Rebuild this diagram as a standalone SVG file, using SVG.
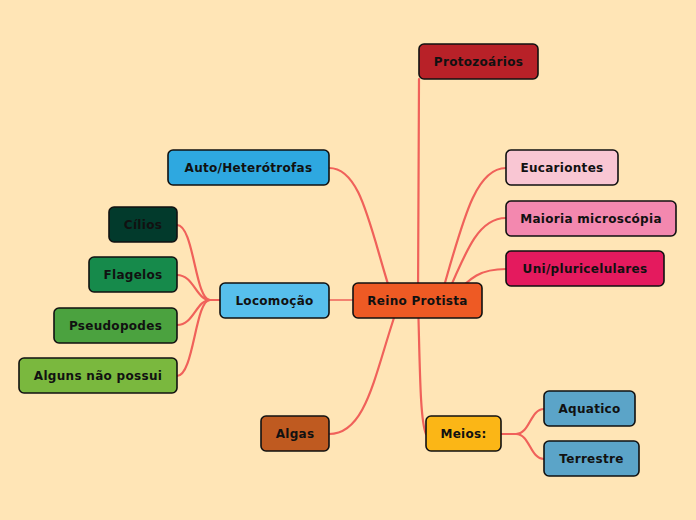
<svg xmlns="http://www.w3.org/2000/svg" width="696" height="520" viewBox="0 0 696 520">
<style>
.bg{fill:#FFE5B6}
.n rect{stroke:#111;stroke-width:1.6}
.n text{font-family:"DejaVu Sans","Liberation Sans",sans-serif;font-weight:bold;font-size:12px;fill:#111;text-anchor:middle;dominant-baseline:central;letter-spacing:0.3px}
#connectors path{fill:none;stroke:#F0615A;stroke-linecap:round;stroke-width:2.2}
#connectors path.thin{stroke-width:1.6}
</style>
<rect class="bg" x="0" y="0" width="696" height="520"/>
<g id="connectors">
<path d="M418 300 L419 79"/>
<path d="M440 300 C462 225 474 168 506 168"/>
<path d="M445 300 C468 245 480 218 506 218"/>
<path d="M450 300 C470 276 482 269 506 269"/>
<path d="M393 300 C370 230 362 168 329 168"/>
<path d="M400 300 C375 370 368 434 329 434"/>
<path d="M418 300 C420 370 420 420 426 434"/>
<path class="thin" d="M353 300 L329 300"/>
<path d="M220 300 L210 300 C195 300 194 225 177 225"/>
<path d="M220 300 L210 300 C196 300 194 275 177 275"/>
<path d="M220 300 L210 300 C196 300 194 325 177 325"/>
<path d="M220 300 L210 300 C195 300 194 376 177 376"/>
<path d="M501 434 L516 434 C530 434 530 409 544 409"/>
<path d="M501 434 L516 434 C530 434 530 459 544 459"/>
</g>
<g id="n-protozoarios" class="n"><rect x="419" y="44" width="119" height="35" rx="5" fill="#B82128"/><text x="478.5" y="62">Protozoários</text></g>
<g id="n-reino" class="n"><rect x="353" y="283" width="129" height="35" rx="5" fill="#EE5A24"/><text x="417.5" y="301">Reino Protista</text></g>
<g id="n-eucariontes" class="n"><rect x="506" y="150" width="112" height="35" rx="5" fill="#F9C6D3"/><text x="562" y="168">Eucariontes</text></g>
<g id="n-maioria" class="n"><rect x="506" y="201" width="170" height="35" rx="5" fill="#F388AF"/><text x="591" y="218.5">Maioria microscópia</text></g>
<g id="n-uni" class="n"><rect x="506" y="251" width="158" height="35" rx="5" fill="#E41A5E"/><text x="585" y="269">Uni/pluricelulares</text></g>
<g id="n-auto" class="n"><rect x="168" y="150" width="161" height="35" rx="5" fill="#2EA8E0"/><text x="248.5" y="168">Auto/Heterótrofas</text></g>
<g id="n-locomocao" class="n"><rect x="220" y="283" width="109" height="35" rx="5" fill="#57BFEC"/><text x="274.5" y="301">Locomoção</text></g>
<g id="n-cilios" class="n"><rect x="109" y="207" width="68" height="35" rx="5" fill="#023A2C"/><text x="143" y="225">Cílios</text></g>
<g id="n-flagelos" class="n"><rect x="89" y="257" width="88" height="35" rx="5" fill="#168A4B"/><text x="133" y="275">Flagelos</text></g>
<g id="n-pseudopodes" class="n"><rect x="54" y="308" width="123" height="35" rx="5" fill="#4BA23F"/><text x="115.5" y="326">Pseudopodes</text></g>
<g id="n-alguns" class="n"><rect x="19" y="358" width="158" height="35" rx="5" fill="#7AB83E"/><text x="98" y="376">Alguns não possui</text></g>
<g id="n-algas" class="n"><rect x="261" y="416" width="68" height="35" rx="5" fill="#BF5A20"/><text x="295" y="434">Algas</text></g>
<g id="n-meios" class="n"><rect x="426" y="416" width="75" height="35" rx="5" fill="#FBB616"/><text x="463.5" y="434">Meios:</text></g>
<g id="n-aquatico" class="n"><rect x="544" y="391" width="91" height="35" rx="5" fill="#5BA4C8"/><text x="589.5" y="409">Aquatico</text></g>
<g id="n-terrestre" class="n"><rect x="544" y="441" width="95" height="35" rx="5" fill="#5BA4C8"/><text x="591.5" y="459">Terrestre</text></g>
</svg>
